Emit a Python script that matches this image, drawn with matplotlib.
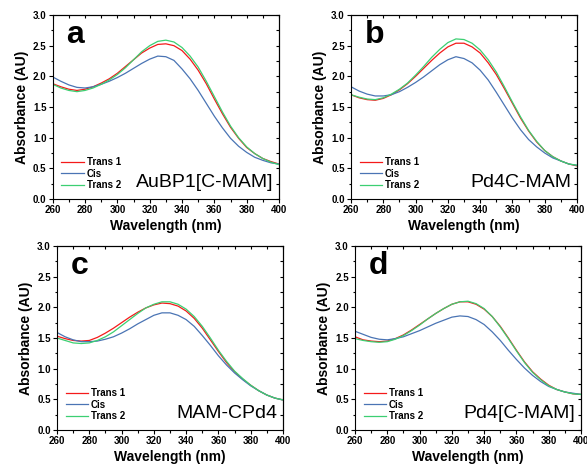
import matplotlib
matplotlib.use("Agg")
import matplotlib.pyplot as plt
from matplotlib.ticker import MultipleLocator

plt.rcParams['font.family'] = ['Liberation Sans', 'DejaVu Sans']

wavelength = list(range(260, 401, 5))

a_trans1 = [1.88, 1.83, 1.79, 1.77, 1.79, 1.83, 1.89, 1.96, 2.05, 2.16, 2.27, 2.38, 2.46, 2.52, 2.53,
            2.50, 2.42, 2.28, 2.10, 1.88, 1.63, 1.39, 1.17, 0.99, 0.84, 0.74, 0.66, 0.61, 0.57]
a_cis = [1.99, 1.92, 1.86, 1.82, 1.81, 1.83, 1.87, 1.92, 1.98, 2.05, 2.13, 2.21, 2.28, 2.33, 2.32,
         2.26, 2.12, 1.96, 1.77, 1.56, 1.35, 1.16, 0.99, 0.86, 0.76, 0.68, 0.63, 0.59, 0.57]
a_trans2 = [1.87, 1.81, 1.77, 1.75, 1.77, 1.81, 1.87, 1.94, 2.03, 2.14, 2.27, 2.40, 2.50, 2.57, 2.59,
            2.56, 2.47, 2.33, 2.15, 1.92, 1.67, 1.42, 1.19, 1.00, 0.85, 0.74, 0.66, 0.60, 0.56]

b_trans1 = [1.70, 1.65, 1.62, 1.61, 1.64, 1.70, 1.78, 1.88, 2.00, 2.13, 2.26, 2.38, 2.48, 2.54, 2.54,
            2.48, 2.38, 2.22, 2.03, 1.80, 1.56, 1.32, 1.11, 0.93, 0.79, 0.69, 0.62, 0.57, 0.54]
b_cis = [1.83, 1.76, 1.71, 1.68, 1.68, 1.70, 1.75, 1.82, 1.90, 1.99, 2.09, 2.19, 2.27, 2.32, 2.29,
         2.22, 2.10, 1.94, 1.74, 1.53, 1.32, 1.13, 0.97, 0.85, 0.75, 0.67, 0.62, 0.57, 0.55]
b_trans2 = [1.70, 1.66, 1.63, 1.62, 1.65, 1.71, 1.79, 1.89, 2.02, 2.16, 2.31, 2.44, 2.55, 2.61, 2.60,
            2.54, 2.43, 2.27, 2.07, 1.83, 1.58, 1.34, 1.12, 0.94, 0.79, 0.69, 0.62, 0.57, 0.55]

c_trans1 = [1.53, 1.49, 1.46, 1.45, 1.46, 1.51, 1.58, 1.66, 1.75, 1.84, 1.92, 1.99, 2.04, 2.07, 2.06,
            2.02, 1.94, 1.82, 1.66, 1.47, 1.28, 1.10, 0.95, 0.83, 0.73, 0.64, 0.57, 0.52, 0.49]
c_cis = [1.59, 1.52, 1.47, 1.44, 1.44, 1.45, 1.48, 1.52, 1.58, 1.65, 1.73, 1.80, 1.87, 1.91, 1.91,
         1.87, 1.80, 1.69, 1.54, 1.38, 1.21, 1.06, 0.93, 0.82, 0.72, 0.64, 0.57, 0.52, 0.49]
c_trans2 = [1.50, 1.46, 1.42, 1.41, 1.42, 1.46, 1.52, 1.60, 1.70, 1.80, 1.90, 1.99, 2.05, 2.09, 2.09,
            2.05, 1.97, 1.85, 1.69, 1.50, 1.30, 1.12, 0.96, 0.84, 0.73, 0.64, 0.57, 0.52, 0.49]

d_trans1 = [1.52, 1.47, 1.45, 1.44, 1.45, 1.49, 1.55, 1.63, 1.72, 1.81, 1.90, 1.98, 2.05, 2.09, 2.09,
            2.05, 1.97, 1.85, 1.69, 1.50, 1.30, 1.11, 0.95, 0.83, 0.73, 0.66, 0.62, 0.59, 0.58]
d_cis = [1.61, 1.56, 1.51, 1.48, 1.47, 1.49, 1.52, 1.57, 1.62, 1.68, 1.74, 1.79, 1.84, 1.86, 1.85,
         1.80, 1.72, 1.60, 1.46, 1.30, 1.15, 1.01, 0.89, 0.79, 0.71, 0.66, 0.62, 0.60, 0.58]
d_trans2 = [1.49, 1.46, 1.44, 1.43, 1.44, 1.48, 1.54, 1.62, 1.71, 1.81, 1.90, 1.98, 2.05, 2.09, 2.10,
            2.06, 1.98, 1.85, 1.68, 1.49, 1.29, 1.10, 0.94, 0.82, 0.72, 0.66, 0.62, 0.59, 0.58]

panel_letters = ['a', 'b', 'c', 'd']
sample_names = ['AuBP1[C-MAM]', 'Pd4C-MAM', 'MAM-CPd4', 'Pd4[C-MAM]']
series_names = ['Trans 1', 'Cis', 'Trans 2']
panel_data = [
    (a_trans1, a_cis, a_trans2),
    (b_trans1, b_cis, b_trans2),
    (c_trans1, c_cis, c_trans2),
    (d_trans1, d_cis, d_trans2),
]
colors = ['#f41a1a', '#4a74b4', '#3ccf72']

xticks = [260, 280, 300, 320, 340, 360, 380, 400]
yticks = [0.0, 0.5, 1.0, 1.5, 2.0, 2.5, 3.0]

W, H = 587, 466
rects_px = [
    (52.7, 15, 279, 199),
    (351, 15, 577, 199),
    (57, 246, 283, 430),
    (355, 246, 581, 430),
]

fig = plt.figure(figsize=(W / 100, H / 100), dpi=100)

for i, (l, t, r, b) in enumerate(rects_px):
    ax = fig.add_axes([l / W, 1 - b / H, (r - l) / W, (b - t) / H])
    for ys, name, col in zip(panel_data[i], series_names, colors):
        ax.plot(wavelength, ys, color=col, lw=0.9, label=name)
    ax.set_xlim(260, 400)
    ax.set_ylim(0, 3.0)
    ax.set_xticks(xticks)
    ax.set_yticks(yticks)
    ax.set_xticklabels([str(x) for x in xticks], fontsize=7, fontweight='bold')
    ax.set_yticklabels([f"{y:.1f}" for y in yticks], fontsize=7, fontweight='bold')
    ax.xaxis.set_minor_locator(MultipleLocator(10))
    ax.yaxis.set_minor_locator(MultipleLocator(0.25))
    ax.tick_params(which='major', direction='out', length=3, width=0.8, pad=1.5)
    ax.tick_params(which='minor', direction='out', length=1.8, width=0.8)
    for s in ax.spines.values():
        s.set_linewidth(0.8)
    secx = ax.secondary_xaxis('top')
    secx.set_xticks(xticks)
    secx.xaxis.set_minor_locator(MultipleLocator(10))
    secx.tick_params(which='both', direction='in', labeltop=False, length=2, width=0.8)
    secy = ax.secondary_yaxis('right')
    secy.set_yticks(yticks)
    secy.yaxis.set_minor_locator(MultipleLocator(0.25))
    secy.tick_params(which='both', direction='in', labelright=False, length=2, width=0.8)
    for s in list(secx.spines.values()) + list(secy.spines.values()):
        s.set_linewidth(0.8)

    ax.set_xlabel('Wavelength (nm)', fontsize=10, fontweight='bold', labelpad=3)
    ax.set_ylabel('Absorbance (AU)', fontsize=10, fontweight='bold', labelpad=3)

    ax.text(0.06, 0.975, panel_letters[i], transform=ax.transAxes, fontsize=23,
            fontweight='bold', va='top', ha='left')
    ax.text(0.975, 0.045, sample_names[i], transform=ax.transAxes, fontsize=14,
            va='bottom', ha='right')
    ax.legend(loc='lower left', bbox_to_anchor=(0.0, 0.0), frameon=False,
              prop={'size': 7, 'weight': 'bold'}, handlelength=2.3,
              handletextpad=0.3, labelspacing=0.15, borderaxespad=0.5)

fig.savefig('out.png', dpi=100)
